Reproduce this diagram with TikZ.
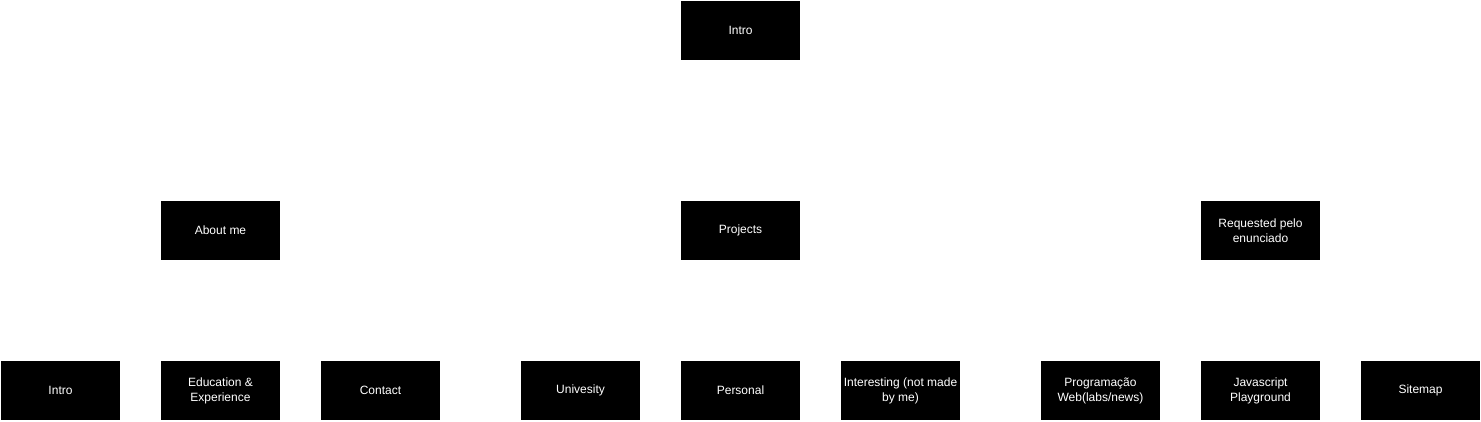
\documentclass[tikz,border=0pt]{standalone}
\usepackage{fontspec}
\setmainfont{Liberation Sans}
\begin{document}
\begin{tikzpicture}[x=1pt,y=-1pt,
  box/.style={fill=black,draw=none,minimum width=119pt,minimum height=59pt,inner sep=0pt,
    text=white,align=center,font=\fontsize{12}{15}\selectfont}]
\useasboundingbox[fill=white] (0,0) rectangle (1481,421);
\node[box] (intro) at (740.5,30.5) {Intro};
\node[box] (about) at (220.5,230.5) {About me};
\node[box] (proj) at (740.5,230.5) {Projects};
\node[box] (req) at (1260.5,230.5) {Requested pelo\\enunciado};
\node[box] (i2) at (60.5,390.5) {Intro};
\node[box] (edu) at (220.5,390.5) {Education \&\\Experience};
\node[box] (cont) at (380.5,390.5) {Contact};
\node[box] (uni) at (580.5,390.5) {Univesity};
\node[box] (pers) at (740.5,390.5) {Personal};
\node[box] (inter) at (900.5,390.5) {Interesting (not made\\by me)};
\node[box] (prog) at (1100.5,390.5) {Programação\\Web(labs/news)};
\node[box] (js) at (1260.5,390.5) {Javascript\\Playground};
\node[box] (site) at (1420.5,390.5) {Sitemap};
\end{tikzpicture}
\end{document}
